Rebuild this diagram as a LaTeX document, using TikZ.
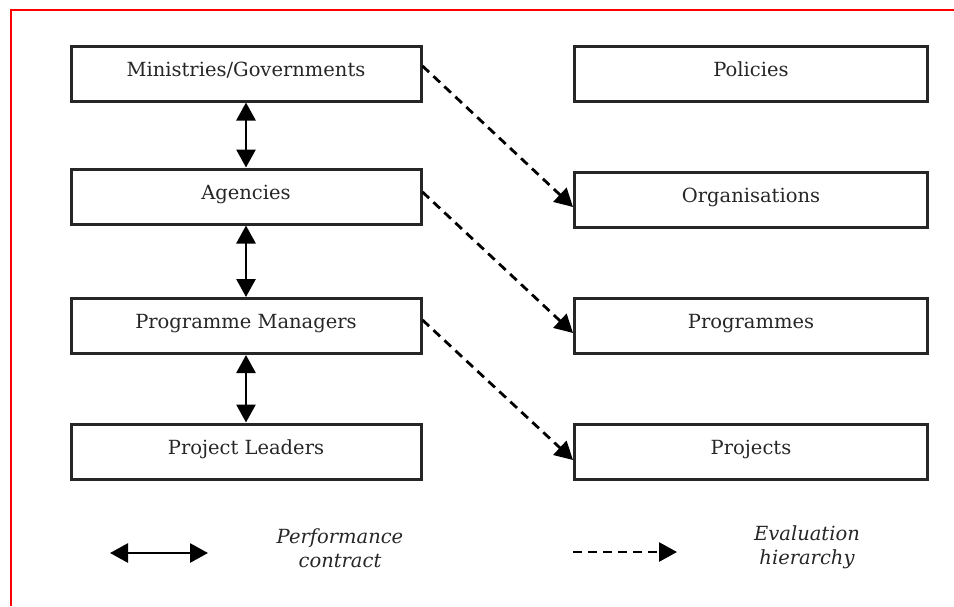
\documentclass[tikz,border=0pt]{standalone}
\usepackage{fontspec}
\setmainfont{DejaVu Serif}
\usetikzlibrary{arrows.meta}
\begin{document}
\begin{tikzpicture}[x=1pt,y=-1pt,
  box/.style={draw=black!85, line width=3pt, minimum width=350pt, minimum height=55pt,
    inner sep=0pt, text height=13pt, text depth=8pt, text=black!85,
    font=\fontsize{19.5}{21}\selectfont},
  legtext/.style={align=center, text=black!85, font=\fontsize{19.5}{24}\selectfont\itshape},
  perf/.style={line width=2.8pt, {Triangle[length=18pt,width=19pt]}-{Triangle[length=18pt,width=19pt]}},
  evalarrow/.style={line width=2.8pt, dash pattern=on 9pt off 6pt, -{Triangle[length=18pt,width=19pt]}}
  ]
\useasboundingbox (0,0) rectangle (954,606);
\draw[red, line width=2.5pt] (11,606) coordinate (rb) -- (11,10) coordinate (rc) -- (954,10) coordinate (rr);

\node[box] (min) at (246,73.5) {Ministries/Governments};
\node[box] (age) at (246,196.5) {Agencies};
\node[box] (pm)  at (246,326) {Programme Managers};
\node[box] (pl)  at (246,451.5) {Project Leaders};

\node[box, minimum width=353pt] (pol) at (751,73.5) {Policies};
\node[box, minimum width=353pt] (org) at (751,200) {Organisations};
\node[box, minimum width=353pt] (prg) at (751,326) {Programmes};
\node[box, minimum width=353pt] (prj) at (751,451.5) {Projects};

\draw[perf] (min.south) -- (age.north);
\draw[perf] (age.south) -- (pm.north);
\draw[perf] (pm.south) -- (pl.north);

\draw[evalarrow] ([yshift=7.5pt]min.east) -- ([yshift=-7pt]org.west);
\draw[evalarrow] ([yshift=4.5pt]age.east) -- ([yshift=-7pt]prg.west);
\draw[evalarrow] ([yshift=6pt]pm.east) -- ([yshift=-8.5pt]prj.west);

\coordinate (la) at (110,553);
\coordinate (lb) at (208,553);
\draw[perf] (la) -- (lb);
\node[legtext] (lt1) at (340,548) {Performance\\contract};

\coordinate (lc) at (573,552);
\coordinate (ld) at (677,552);
\draw[evalarrow] (lc) -- (ld);
\node[legtext] (lt2) at (807,547) {Evaluation\\hierarchy};
\end{tikzpicture}
\end{document}
